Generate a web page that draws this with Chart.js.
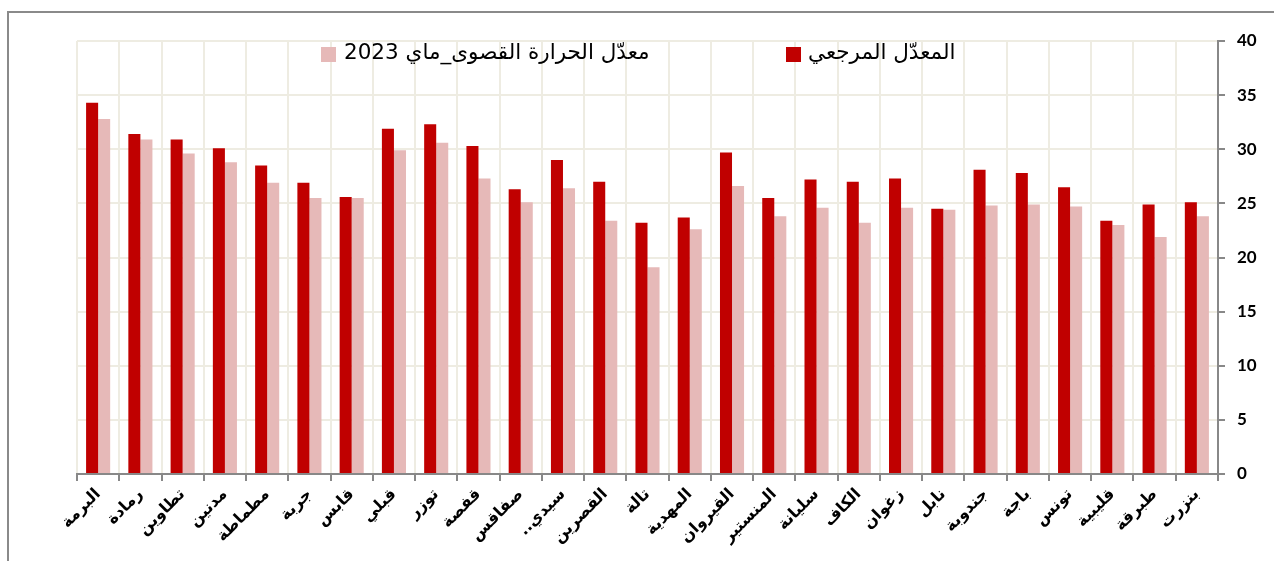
<!DOCTYPE html>
<html lang="ar">
<head>
<meta charset="utf-8">
<script src="https://cdn.jsdelivr.net/npm/chart.js@4.4.1/dist/chart.umd.min.js"></script>
<style>
  html, body { margin: 0; padding: 0; background: #fff; overflow: hidden; }
  #wrap { position: relative; width: 1274px; height: 561px; }
  #frame { position: absolute; left: 7px; top: 11px; width: 1300px; height: 600px; border: 2px solid #8a8a8a; box-sizing: border-box; }
  #chartBox { position: absolute; left: 0; top: 0; width: 1274px; height: 561px; }
  .legend-item { position: absolute; top: 40px; height: 28px; font-family: "DejaVu Sans", "Liberation Sans", sans-serif; font-size: 21.5px; color: #000; white-space: nowrap; }
  .legend-box { position: absolute; top: 7px; width: 15px; height: 15px; }
  .legend-text { position: absolute; top: -1px; direction: rtl; }
</style>
</head>
<body>
<div id="wrap">
  <div id="frame"></div>
  <div id="chartBox"><canvas id="myChart"></canvas></div>
  <div id="legend"></div>
</div>
<script>
// Stations (left to right as in the picture)
const stations = [
    'البرمة', 'رمادة', 'تطاوين', 'مدنين', 'مطماطة', 'جربة', 'قابس', 'قبلي', 'توزر',
    'قفصة', 'صفاقس', 'سيدي..\u200F', 'القصرين', 'تالة', 'المهدية', 'القيروان', 'المنستير',
    'سليانة', 'الكاف', 'زغوان', 'نابل', 'جندوبة', 'باجة', 'تونس', 'قليبية', 'طبرقة', 'بنزرت'
];

// Reference average (dark red)
const referenceAvg = [
    34.3, 31.4, 30.9, 30.1, 28.5, 26.9, 25.6, 31.9, 32.3,
    30.3, 26.3, 29.0, 27.0, 23.2, 23.7, 29.7, 25.5,
    27.2, 27.0, 27.3, 24.5, 28.1, 27.8, 26.5, 23.4, 24.9, 25.1
];

// Mean max temperature, May 2023 (light pink)
const may2023Max = [
    32.8, 30.9, 29.6, 28.8, 26.9, 25.5, 25.5, 29.9, 30.6,
    27.3, 25.1, 26.4, 23.4, 19.1, 22.6, 26.6, 23.8,
    24.6, 23.2, 24.6, 24.4, 24.8, 24.9, 24.7, 23.0, 21.9, 23.8
];

const yTicks = [0, 5, 10, 15, 20, 25, 30, 35, 40];

const refLabel = 'المعدّل المرجعي';
const mayLabel = 'معدّل الحرارة القصوى_ماي 2023';

const darkRed = '#C00000';
const lightPink = '#E6B9B8';
const gridColor = '#EEECE2';
const axisColor = '#888888';

// simple html legend, placed inside the plot like the original
function addLegendItem(label, color, boxX, textX) {
    const item = document.createElement('div');
    item.className = 'legend-item';
    item.style.left = '0px';
    const box = document.createElement('span');
    box.className = 'legend-box';
    box.style.left = boxX + 'px';
    box.style.background = color;
    const txt = document.createElement('span');
    txt.className = 'legend-text';
    txt.style.left = textX + 'px';
    txt.textContent = label;
    item.appendChild(box);
    item.appendChild(txt);
    document.getElementById('legend').appendChild(item);
}
addLegendItem(refLabel, darkRed, 786, 808);
addLegendItem(mayLabel, lightPink, 321, 344);

const ctx = document.getElementById('myChart').getContext('2d');
new Chart(ctx, {
    type: 'bar',
    data: {
        labels: stations,
        datasets: [{
            label: refLabel,
            data: referenceAvg,
            backgroundColor: darkRed,
            categoryPercentage: 0.57,
            barPercentage: 1.0
        }, {
            label: mayLabel,
            data: may2023Max,
            backgroundColor: lightPink,
            categoryPercentage: 0.57,
            barPercentage: 1.0
        }]
    },
    options: {
        responsive: true,
        maintainAspectRatio: false,
        animation: false,
        layout: {
            padding: { left: 77, top: 41, right: 0, bottom: 0 }
        },
        plugins: {
            legend: { display: false },
            tooltip: { enabled: false }
        },
        scales: {
            x: {
                afterFit: scale => { scale.height = 87; },
                grid: {
                    color: gridColor,
                    lineWidth: 2,
                    offset: true,
                    tickColor: axisColor,
                    tickLength: 7
                },
                border: { color: axisColor, width: 2 },
                ticks: {
                    autoSkip: false,
                    maxRotation: 45,
                    minRotation: 45,
                    padding: 4,
                    color: '#000',
                    font: { family: '"DejaVu Sans", sans-serif', size: 16, weight: 'bold' }
                }
            },
            y: {
                position: 'right',
                min: 0,
                max: 40,
                afterFit: scale => { scale.width = 56; },
                afterBuildTicks: scale => { scale.ticks = yTicks.map(v => ({ value: v })); },
                grid: {
                    color: gridColor,
                    lineWidth: 2,
                    tickColor: axisColor,
                    tickLength: 7
                },
                border: { color: axisColor, width: 2 },
                ticks: {
                    padding: 12,
                    color: '#000',
                    font: { family: 'Lato, sans-serif', size: 17, weight: 'bold' }
                }
            }
        }
    }
});
</script>
</body>
</html>
